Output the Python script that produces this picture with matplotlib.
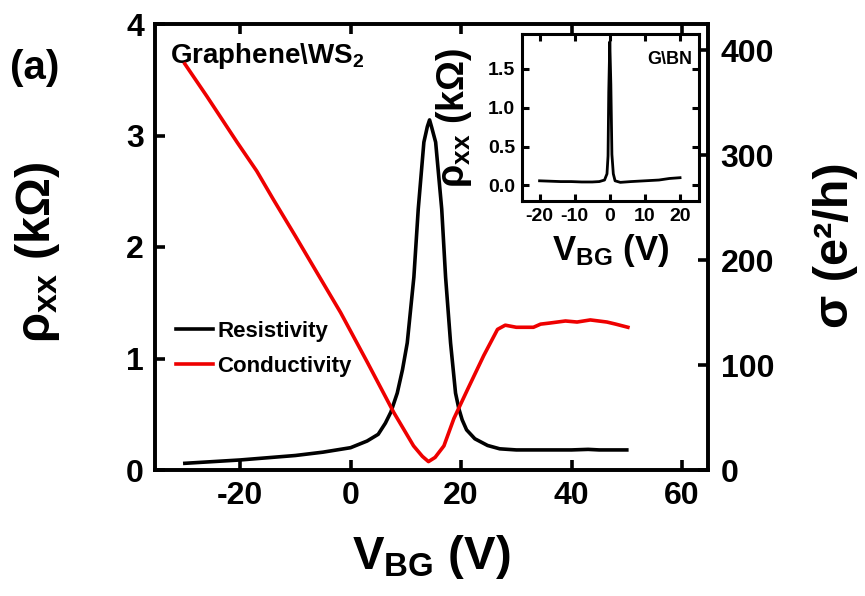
import matplotlib
matplotlib.use("Agg")
import matplotlib.pyplot as plt
import numpy as np

plt.rcParams['font.family'] = ['Liberation Sans', 'DejaVu Sans']
plt.rcParams['font.weight'] = 'bold'
plt.rcParams['axes.labelweight'] = 'bold'
plt.rcParams['axes.unicode_minus'] = False
plt.rcParams['mathtext.fontset'] = 'custom'
plt.rcParams['mathtext.rm'] = 'Liberation Sans:bold'
plt.rcParams['mathtext.it'] = 'Liberation Sans:bold'
plt.rcParams['mathtext.bf'] = 'Liberation Sans:bold'

# ---- main data: resistivity (kOhm) vs back-gate voltage (V)
v_rho = [-30, -25, -20, -15, -10, -5, 0, 3, 5, 6.3, 7.3, 8.45, 9.4, 10.26, 11.46, 12.25,
         13.27, 13.9, 14.3, 14.7, 15.4, 16.5, 17.2, 18.1, 19.0, 19.6, 20.2, 21, 22.5, 24.8,
         27, 30, 35, 40, 43, 45, 50]
rho = [0.06, 0.075, 0.09, 0.11, 0.13, 0.16, 0.20, 0.26, 0.32, 0.42, 0.52, 0.69, 0.90, 1.14,
       1.73, 2.34, 2.94, 3.08, 3.14, 3.07, 2.94, 2.34, 1.73, 1.14, 0.69, 0.55, 0.45, 0.36,
       0.28, 0.22, 0.19, 0.18, 0.18, 0.18, 0.185, 0.18, 0.18]

# ---- conductivity (e^2/h) vs back-gate voltage (V)
v_sig = [-30, -26, -20.5, -17, -14, -10, -5.4, -1.8, 3.0, 7.8, 11.4, 13, 14.1, 15.3, 16.9,
         18.7, 21.2, 24.1, 26.6, 28, 30, 33.1, 34.4, 36, 38.9, 41, 43.4, 46.4, 48, 50.2]
sigma = [387, 356, 312, 285, 258, 223, 182, 150, 103, 55, 23, 13, 8, 12, 23,
         49, 77, 109, 134, 138, 136, 136, 139, 140, 142, 141, 143, 141, 139, 136]

# ---- inset data: G\BN resistivity
v_in = [-20, -17, -14, -11, -8, -5, -3, -1.5, -0.8, -0.5, -0.3, 0, 0.3, 0.6, 1.0, 1.5,
        3, 6, 10, 14, 17, 20]
rho_in = [0.06, 0.055, 0.05, 0.05, 0.045, 0.045, 0.05, 0.07, 0.15, 0.38, 1.2, 1.85, 1.3,
          0.40, 0.15, 0.06, 0.04, 0.05, 0.06, 0.07, 0.09, 0.10]

W, H = 865, 596
fig = plt.figure(figsize=(W / 100, H / 100), dpi=100)
ax = fig.add_axes([155 / W, 1 - 470 / H, (708 - 155) / W, (470 - 24) / H])
ax2 = ax.twinx()

l1, = ax.plot(v_rho, rho, color='black', lw=2.6, label='Resistivity', zorder=3)
l2, = ax2.plot(v_sig, sigma, color='#ee0000', lw=2.6, label='Conductivity')

ax.set_xlim(-35.4, 64.7)
ax.set_ylim(0, 4)
ax2.set_ylim(0, 425)
ax.set_xticks([-20, 0, 20, 40, 60])
ax.set_yticks([0, 1, 2, 3, 4])
ax2.set_yticks([0, 100, 200, 300, 400])

for a in (ax, ax2):
    for s in a.spines.values():
        s.set_linewidth(2.6)
ax.tick_params(axis='x', direction='in', top=True, length=7, width=2.6, labelsize=23, pad=8)
ax.tick_params(axis='y', direction='in', length=7, width=2.6, labelsize=23, pad=8)
ax2.tick_params(axis='y', direction='in', length=7, width=2.6, labelsize=23, pad=9)

ax.set_xlabel(r'V$_{\mathbf{BG}}$ (V)', fontsize=34, labelpad=16)
fig.text(38 / W, 1 - 252 / H, r'ρ$_{\mathbf{xx}}$ (kΩ)', fontsize=35, rotation=90,
         ha='center', va='center')
fig.text(835 / W, 1 - 245 / H, 'σ (e²/h)', fontsize=35, rotation=90,
         ha='center', va='center')
fig.text(10 / W, 1 - 68 / H, '(a)', fontsize=29, ha='left', va='center')

ax.text(0.027, 0.913, r'Graphene\WS$_{\mathbf{2}}$', transform=ax.transAxes,
        fontsize=20, ha='left', va='baseline')

ax.legend([l1, l2], ['Resistivity', 'Conductivity'], loc='upper left',
          bbox_to_anchor=(0.022, 0.355), frameon=False, fontsize=16,
          handlelength=1.65, handletextpad=0.2, labelspacing=0.65, borderaxespad=0)

# ---- inset
axi = fig.add_axes([522 / W, 1 - 201 / H, (699 - 522) / W, (201 - 34) / H])
axi.plot(v_in, rho_in, color='black', lw=2.0)
axi.set_xlim(-25, 25.4)
axi.set_ylim(-0.2, 1.95)
axi.set_xticks([-20, -10, 0, 10, 20])
axi.set_yticks([0.0, 0.5, 1.0, 1.5])
axi.set_yticklabels(['0.0', '0.5', '1.0', '1.5'])
for s in axi.spines.values():
    s.set_linewidth(2.2)
axi.tick_params(direction='in', top=True, right=True, length=5, width=2.2,
                labelsize=14, pad=5)
axi.set_xlabel(r'V$_{\mathbf{BG}}$ (V)', fontsize=25, labelpad=5)
axi.set_ylabel(r'ρ$_{\mathbf{xx}}$ (kΩ)', fontsize=27, labelpad=10)
axi.text(0.96, 0.82, r'G\BN', transform=axi.transAxes, fontsize=13,
         ha='right', va='baseline')

fig.savefig('out.png', dpi=100)
